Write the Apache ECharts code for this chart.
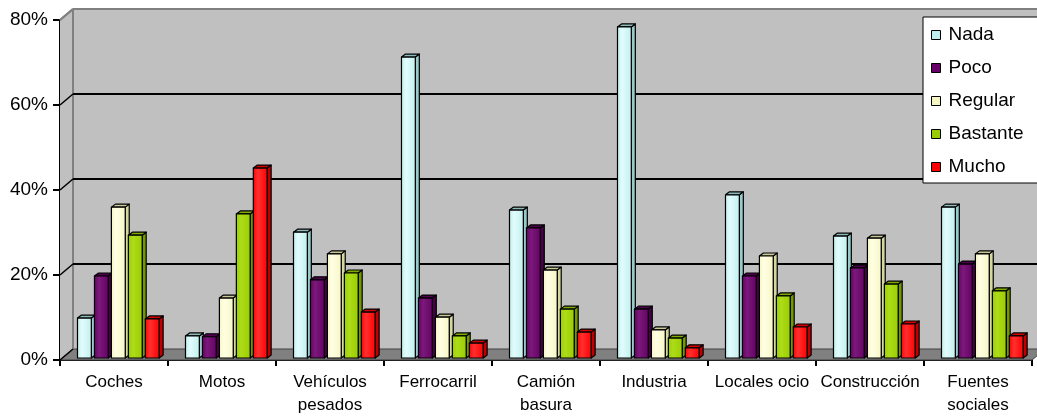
<!DOCTYPE html>
<html>
<head>
<meta charset="utf-8">
<script src="https://cdn.jsdelivr.net/npm/echarts@6/dist/echarts.min.js"></script>
<style>
  html, body { margin: 0; padding: 0; background: #ffffff; }
  #chart { width: 1037px; height: 418px; }
</style>
</head>
<body>
<div id="chart"></div>
<script>
// Categories (x axis) and the share of answers per level, in percent
var categories = ['Coches', 'Motos', 'Vehículos\npesados', 'Ferrocarril', 'Camión\nbasura',
                  'Industria', 'Locales ocio', 'Construcción', 'Fuentes\nsociales'];
var nada     = [9.4, 5.2, 29.6, 70.8, 34.8, 77.9, 38.4, 28.7, 35.5];
var poco     = [19.3, 5.0, 18.4, 14.1, 30.6, 11.5, 19.3, 21.2, 22.1];
var regular  = [35.5, 14.1, 24.5, 9.6, 20.7, 6.6, 24.0, 28.2, 24.5];
var bastante = [28.9, 33.9, 20.0, 5.2, 11.5, 4.7, 14.6, 17.4, 15.8];
var mucho    = [9.2, 44.7, 10.8, 3.5, 6.1, 2.4, 7.3, 8.0, 5.2];
var seriesNames = ['Nada', 'Poco', 'Regular', 'Bastante', 'Mucho'];
var yTicks = [0, 20, 40, 60, 80];

// Face colours for each level: [light, front, dark side, top]
var palette = [
  ['#E2FCFC', '#C0EEEE', '#98CACA', '#8CBABA'],
  ['#7A1A7A', '#660066', '#470047', '#4F004F'],
  ['#FFFFE4', '#F6F6C4', '#D6D6A2', '#C8C898'],
  ['#ADDC1A', '#99CC00', '#739900', '#7FAA00'],
  ['#FF3030', '#FF0000', '#C00000', '#D00000']
];

// Depth offset of the 3D walls (back wall relative to the front plane)
var WALL_DX = 13, WALL_DY = -11;
// Bar depth offsets
var BAR_DX = 4, BAR_DY = -3, BAR_LIFT = -2;

function frameWalls(params, api) {
  var cs = params.coordSys;
  var x0 = cs.x, x1 = cs.x + cs.width;
  var yTop = api.coord([0, 80])[1];
  var yBase = api.coord([0, 0])[1];
  var bx0 = x0 + WALL_DX, bx1 = x1 + WALL_DX;
  return {
    type: 'group',
    children: [
      { type: 'rect', shape: { x: bx0, y: yTop + WALL_DY, width: bx1 - bx0, height: yBase - yTop },
        style: { fill: '#C0C0C0' } },
      { type: 'polygon', shape: { points: [[x0, yTop], [bx0, yTop + WALL_DY], [bx0, yBase + WALL_DY], [x0, yBase]] },
        style: { fill: '#C0C0C0' } },
      { type: 'polygon', shape: { points: [[x0, yBase], [bx0, yBase + WALL_DY], [bx1, yBase + WALL_DY], [x1, yBase]] },
        style: { fill: '#808080', stroke: '#404040', lineWidth: 1 } },
      { type: 'line', shape: { x1: bx0, y1: yTop + WALL_DY, x2: bx0, y2: yBase + WALL_DY },
        style: { stroke: '#808080', lineWidth: 2 } },
      { type: 'line', shape: { x1: x0, y1: yTop, x2: bx0, y2: yTop + WALL_DY },
        style: { stroke: '#808080', lineWidth: 2 } },
      { type: 'line', shape: { x1: bx0, y1: yTop + WALL_DY, x2: bx1, y2: yTop + WALL_DY },
        style: { stroke: '#808080', lineWidth: 2 } }
    ]
  };
}

function frameGrid(params, api) {
  var cs = params.coordSys;
  var v = api.value(1);
  var y = api.coord([0, v])[1];
  var x0 = cs.x, x1 = cs.x + cs.width;
  var children = [
    { type: 'line', shape: { x1: x0, y1: y, x2: x0 + WALL_DX, y2: y + WALL_DY },
      style: { stroke: v === 80 ? '#808080' : '#000', lineWidth: v === 80 ? 2 : 1.5 } }
  ];
  if (v > 0 && v < 80) {
    children.push({ type: 'line', shape: { x1: x0 + WALL_DX, y1: y + WALL_DY, x2: x1 + WALL_DX, y2: y + WALL_DY },
      style: { stroke: '#000', lineWidth: 2 } });
  }
  return { type: 'group', children: children };
}

function makeBarRenderer(idx) {
  var c = palette[idx];
  return function (params, api) {
    var cat = api.value(0), val = api.value(1);
    var catW = api.size([1, 0])[0];
    var center = api.coord([cat, 0])[0];
    var pitch = catW * 0.157;
    var w = catW * 0.128;
    var x = center - catW * 0.338 + idx * pitch;
    var yb = api.coord([cat, 0])[1] + BAR_LIFT;
    var yt = api.coord([cat, val])[1] + BAR_LIFT;
    var stroke = { stroke: '#000', lineWidth: 1.2, lineJoin: 'round' };
    return {
      type: 'group',
      children: [
        { type: 'polygon',
          shape: { points: [[x + w, yt], [x + w + BAR_DX, yt + BAR_DY], [x + w + BAR_DX, yb + BAR_DY], [x + w, yb]] },
          style: Object.assign({ fill: c[2] }, stroke) },
        { type: 'polygon',
          shape: { points: [[x, yt], [x + BAR_DX, yt + BAR_DY], [x + w + BAR_DX, yt + BAR_DY], [x + w, yt]] },
          style: Object.assign({ fill: c[3] }, stroke) },
        { type: 'rect',
          shape: { x: x, y: yt, width: w, height: yb - yt },
          style: Object.assign({
            fill: new echarts.graphic.LinearGradient(0, 0, 1, 0, [
              { offset: 0, color: c[1] },
              { offset: 0.35, color: c[0] },
              { offset: 1, color: c[1] }
            ])
          }, stroke) }
      ]
    };
  };
}

var levels = [nada, poco, regular, bastante, mucho];
var barSeries = levels.map(function (vals, i) {
  return {
    name: seriesNames[i],
    type: 'custom',
    z: 5,
    renderItem: makeBarRenderer(i),
    itemStyle: { color: palette[i][1], borderColor: '#000', borderWidth: 1 },
    encode: { x: 0, y: 1 },
    data: vals.map(function (v, j) { return [j, v]; })
  };
});

var chart = echarts.init(document.getElementById('chart'), null, { renderer: 'canvas' });
chart.setOption({
  animation: false,
  backgroundColor: '#ffffff',
  textStyle: { fontFamily: 'Liberation Sans, Arial, sans-serif' },
  grid: { left: 60, right: 5, top: 20, bottom: 58, containLabel: false, outerBoundsMode: 'none' },
  legend: {
    data: seriesNames,
    orient: 'vertical',
    left: 923,
    top: 17,
    backgroundColor: '#ffffff',
    borderColor: '#000',
    borderWidth: 1,
    borderRadius: 0,
    padding: [8, 40, 6, 8],
    itemGap: 13,
    itemWidth: 9,
    itemHeight: 9,
    icon: 'rect',
    itemStyle: { borderColor: '#000', borderWidth: 1 },
    textStyle: { fontSize: 19, color: '#000', lineHeight: 20, padding: [0, 0, 0, 3],
                 fontFamily: 'Liberation Sans, Arial, sans-serif' }
  },
  xAxis: {
    type: 'category',
    data: categories,
    boundaryGap: true,
    axisLine: { lineStyle: { color: '#000', width: 2 } },
    axisTick: { show: true, interval: 0, length: 6, lineStyle: { color: '#000', width: 2 } },
    axisLabel: { interval: 0, fontSize: 17, color: '#000', margin: 11, lineHeight: 23,
                 fontFamily: 'Liberation Sans, Arial, sans-serif' },
    splitLine: { show: false }
  },
  yAxis: {
    type: 'value',
    min: 0,
    max: 80,
    interval: 20,
    axisLine: { show: true, lineStyle: { color: '#000', width: 2 } },
    axisTick: { show: true, length: 7, lineStyle: { color: '#000', width: 2 } },
    axisLabel: { formatter: '{value}%', fontSize: 19, color: '#000', margin: 12,
                 fontFamily: 'Liberation Sans, Arial, sans-serif' },
    splitLine: { show: false }
  },
  series: [
    { type: 'custom', z: 1, silent: true, renderItem: frameWalls, encode: { x: 0, y: 1 }, data: [[0, 0]] },
    { type: 'custom', z: 2, silent: true, renderItem: frameGrid, encode: { x: 0, y: 1 },
      data: yTicks.map(function (t) { return [0, t]; }) }
  ].concat(barSeries)
});
</script>
</body>
</html>
